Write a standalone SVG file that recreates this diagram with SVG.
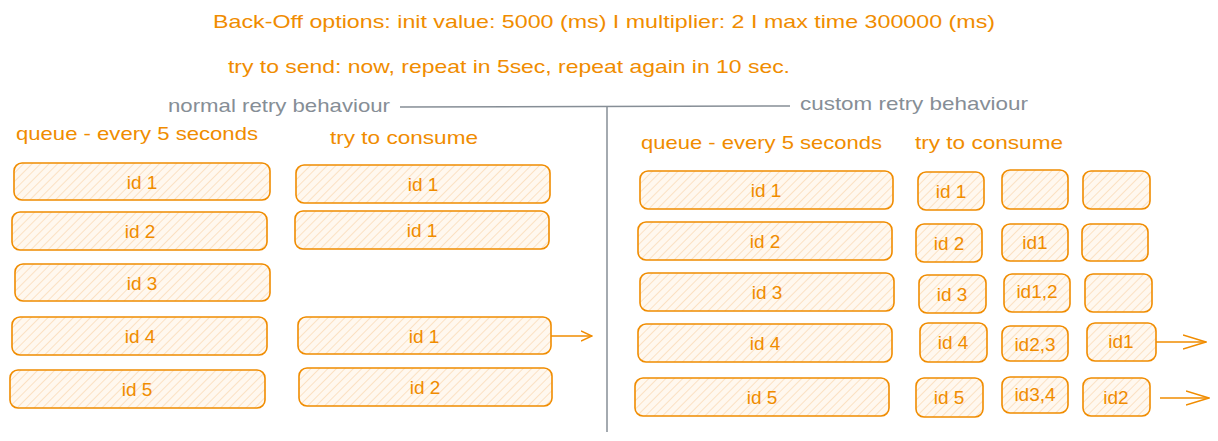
<svg xmlns="http://www.w3.org/2000/svg" width="1218" height="441" viewBox="0 0 1218 441">
<defs>
<pattern id="hatch" patternUnits="userSpaceOnUse" width="6" height="6" patternTransform="rotate(45)">
<rect width="6" height="6" fill="#fff8ef"/>
<line x1="0" y1="0" x2="0" y2="6" stroke="#f5b46a" stroke-width="1.1" stroke-opacity="0.6"/>
</pattern>
<marker id="arr" viewBox="0 0 12 12" refX="11" refY="6" markerWidth="12" markerHeight="12" markerUnits="userSpaceOnUse" orient="auto">
<path d="M0,1 L11,6 L0,11" fill="none" stroke="#f08c00" stroke-width="1.4"/>
</marker>
<marker id="arrL" viewBox="0 0 24 16" refX="23" refY="8" markerWidth="24" markerHeight="16" markerUnits="userSpaceOnUse" orient="auto">
<path d="M0,1 L23,8 L0,15" fill="none" stroke="#f08c00" stroke-width="1.6"/>
</marker>
</defs>
<style>
.box{fill:url(#hatch);stroke:#f08c00;stroke-width:1.6}
.t{font-family:"Liberation Sans",Arial,sans-serif;fill:#f08c00;font-size:19px}
.c{text-anchor:middle;dominant-baseline:central}
.g{font-family:"Liberation Sans",Arial,sans-serif;fill:#868e96;font-size:19px}
.ln{stroke:#868e96;stroke-width:1.5;fill:none}
.ar{stroke:#f08c00;stroke-width:1.6;fill:none}
</style>
<rect width="1218" height="441" fill="#ffffff"/>
<g id="titles">
<text class="t" x="213" y="28" textLength="782" lengthAdjust="spacingAndGlyphs">Back-Off options: init value: 5000 (ms) I multiplier: 2 I max time 300000 (ms)</text>
<text class="t" x="228" y="73" textLength="562" lengthAdjust="spacingAndGlyphs">try to send: now, repeat in 5sec, repeat again in 10 sec.</text>
<text class="g" x="168" y="112" textLength="222" lengthAdjust="spacingAndGlyphs">normal retry behaviour</text>
<text class="g" x="800" y="110" textLength="228" lengthAdjust="spacingAndGlyphs">custom retry behaviour</text>
<text class="t" x="16" y="140" textLength="242" lengthAdjust="spacingAndGlyphs">queue - every 5 seconds</text>
<text class="t" x="330" y="144" textLength="148" lengthAdjust="spacingAndGlyphs">try to consume</text>
<text class="t" x="641" y="149" textLength="241" lengthAdjust="spacingAndGlyphs">queue - every 5 seconds</text>
<text class="t" x="915" y="149" textLength="148" lengthAdjust="spacingAndGlyphs">try to consume</text>
</g>
<g id="connectors">
<path class="ln" d="M400,107 L790,106"/>
<path class="ln" d="M607,107 L607,432"/>
<path class="ar" d="M551,336 L592,336" marker-end="url(#arr)"/>
<path class="ar" d="M1156,342 L1206,342" marker-end="url(#arrL)"/>
<path class="ar" d="M1160,398 L1209,398" marker-end="url(#arrL)"/>
</g>
<g id="lq1"><rect class="box" x="14" y="163" width="256" height="37" rx="8"/><text class="t c" x="142" y="182">id 1</text></g>
<g id="lq2"><rect class="box" x="12" y="212" width="255" height="38" rx="8"/><text class="t c" x="140" y="231">id 2</text></g>
<g id="lq3"><rect class="box" x="15" y="264" width="255" height="37" rx="8"/><text class="t c" x="142" y="283">id 3</text></g>
<g id="lq4"><rect class="box" x="12" y="317" width="255" height="38" rx="8"/><text class="t c" x="140" y="336">id 4</text></g>
<g id="lq5"><rect class="box" x="10" y="370" width="255" height="38" rx="8"/><text class="t c" x="137" y="389">id 5</text></g>
<g id="lc1"><rect class="box" x="296" y="165" width="254" height="38" rx="8"/><text class="t c" x="423" y="184">id 1</text></g>
<g id="lc2"><rect class="box" x="295" y="211" width="254" height="38" rx="8"/><text class="t c" x="422" y="230">id 1</text></g>
<g id="lc3"><rect class="box" x="298" y="317" width="253" height="37" rx="8"/><text class="t c" x="424" y="336">id 1</text></g>
<g id="lc4"><rect class="box" x="299" y="368" width="253" height="38" rx="8"/><text class="t c" x="425" y="387">id 2</text></g>
<g id="rq1"><rect class="box" x="640" y="171" width="253" height="38" rx="8"/><text class="t c" x="766" y="190">id 1</text></g>
<g id="rq2"><rect class="box" x="638" y="222" width="254" height="38" rx="8"/><text class="t c" x="765" y="241">id 2</text></g>
<g id="rq3"><rect class="box" x="640" y="273" width="254" height="38" rx="8"/><text class="t c" x="767" y="292">id 3</text></g>
<g id="rq4"><rect class="box" x="638" y="324" width="254" height="38" rx="8"/><text class="t c" x="765" y="343">id 4</text></g>
<g id="rq5"><rect class="box" x="635" y="378" width="254" height="38" rx="8"/><text class="t c" x="762" y="397">id 5</text></g>
<g id="a1"><rect class="box" x="918" y="172" width="66" height="38" rx="8"/><text class="t c" x="951" y="191">id 1</text></g>
<g id="a2"><rect class="box" x="916" y="224" width="66" height="38" rx="8"/><text class="t c" x="949" y="243">id 2</text></g>
<g id="a3"><rect class="box" x="919" y="275" width="67" height="38" rx="8"/><text class="t c" x="952" y="294">id 3</text></g>
<g id="a4"><rect class="box" x="920" y="323" width="67" height="39" rx="8"/><text class="t c" x="953" y="342">id 4</text></g>
<g id="a5"><rect class="box" x="916" y="378" width="67" height="39" rx="8"/><text class="t c" x="949" y="397">id 5</text></g>
<g id="b1"><rect class="box" x="1002" y="170" width="66" height="39" rx="8"/></g>
<g id="b2"><rect class="box" x="1002" y="224" width="66" height="37" rx="8"/><text class="t c" x="1035" y="242">id1</text></g>
<g id="b3"><rect class="box" x="1004" y="274" width="66" height="38" rx="8"/><text class="t c" x="1037" y="291">id1,2</text></g>
<g id="b4"><rect class="box" x="1002" y="326" width="66" height="35" rx="8"/><text class="t c" x="1035" y="344">id2,3</text></g>
<g id="b5"><rect class="box" x="1002" y="377" width="66" height="36" rx="8"/><text class="t c" x="1035" y="394">id3,4</text></g>
<g id="c1"><rect class="box" x="1083" y="171" width="67" height="38" rx="8"/></g>
<g id="c2"><rect class="box" x="1082" y="224" width="66" height="37" rx="8"/></g>
<g id="c3"><rect class="box" x="1085" y="274" width="67" height="38" rx="8"/></g>
<g id="c4"><rect class="box" x="1087" y="323" width="69" height="38" rx="8"/><text class="t c" x="1121" y="341">id1</text></g>
<g id="c5"><rect class="box" x="1083" y="378" width="67" height="38" rx="8"/><text class="t c" x="1116" y="397">id2</text></g>
</svg>
